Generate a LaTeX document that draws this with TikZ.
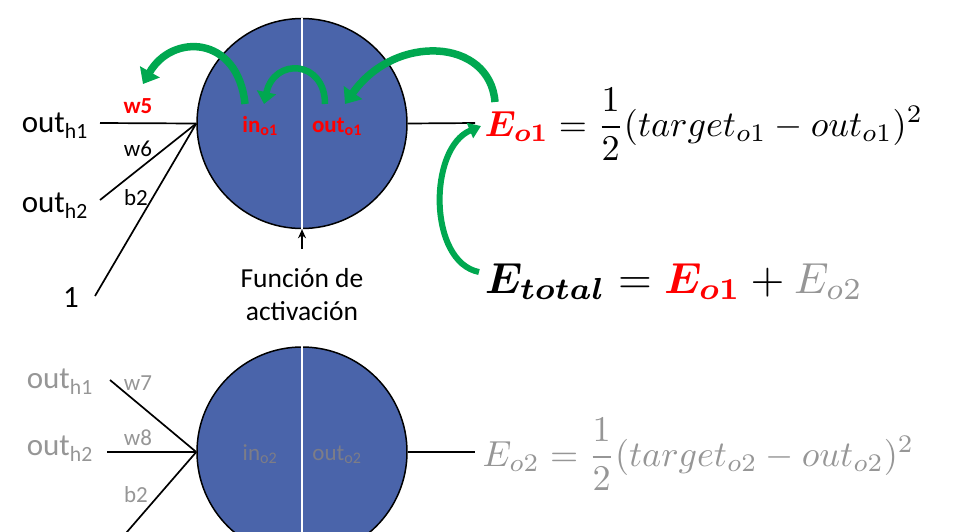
\documentclass[tikz,border=0pt]{standalone}
\usepackage{amsmath,bm}
\usepackage{fontspec}
\setmainfont{Carlito}
\usetikzlibrary{arrows.meta}
\definecolor{nblue}{RGB}{74,100,170}
\definecolor{ngreen}{RGB}{0,168,80}
\definecolor{ngray}{RGB}{150,150,150}
\definecolor{dgray}{RGB}{125,125,135}
\definecolor{nred}{RGB}{255,0,0}
\tikzset{
  neuron/.style={circle,draw=black,fill=nblue,minimum size=210pt,inner sep=0pt,line width=1.5pt},
  wire/.style={line width=1.7pt,black},
  lbl/.style={inner sep=0pt,font=\fontsize{31}{34}\selectfont},
  wlbl/.style={inner sep=0pt,font=\fontsize{23}{26}\selectfont},
  redb/.style={inner sep=0pt,text=nred,font=\fontsize{23}{26}\selectfont\bfseries},
  grayin/.style={inner sep=0pt,text=dgray,font=\fontsize{23}{26}\selectfont},
  garrow/.style={draw=ngreen,line width=7.5pt,-{Triangle[width=22pt,length=14pt]}},
  eq/.style={inner sep=0pt,font=\fontsize{10}{12}\selectfont,scale=3.62},
}
\begin{document}
\begin{tikzpicture}[x=1pt,y=-1pt]
\useasboundingbox (0,0) rectangle (958,531);
\clip (0,0) rectangle (958,531);

% ---------- top neuron ----------
\node[neuron] (c1) at (302,123.5) {};
\draw[white,line width=2pt] (c1.north) -- (c1.south);
\node[redb,anchor=base] (in1) at (260,132) {in\textsubscript{o1}};
\node[redb,anchor=base] (out1) at (337,132) {out\textsubscript{o1}};

\coordinate (a1) at (100,123);
\coordinate (a2) at (100,200);
\coordinate (a3) at (95,296);
\draw[wire] (a1) -- (c1.west);
\draw[wire] (a2) -- (c1.west);
\draw[wire] (a3) -- (c1.west);
\node[lbl,anchor=base east] (oh1) at (88,132) {out\textsubscript{h1}};
\node[lbl,anchor=base east] (oh2) at (88,212) {out\textsubscript{h2}};
\node[lbl,anchor=base] (one) at (71,307) {1};
\node[redb,anchor=base] (w5) at (138,113) {w5};
\node[wlbl,anchor=base] (w6) at (138,156) {w6};
\node[wlbl,anchor=base] (b2a) at (136,205) {b2};

\coordinate (o1) at (475,123);
\draw[wire] (c1.east) -- (o1);

\coordinate (act) at (302,249);
\draw[wire,-{Stealth[length=9pt,width=8pt]}] (act) -- (c1.south);
\node[inner sep=0pt,font=\fontsize{27.5}{32}\selectfont,anchor=base] (f1) at (302,287) {Función de};
\node[inner sep=0pt,font=\fontsize{27.5}{32}\selectfont,anchor=base] (f2) at (302,320) {activación};

% equations
\node[eq,anchor=base west] (eo1) at (484,136)
  {$\color{nred}\bm{E_{o1}}\color{black} = \dfrac{1}{2}(target_{o1} - out_{o1})^2$};
\node[eq,scale=1.2,anchor=base west] (etot) at (484,293)
  {$\bm{E_{total}} = \color{nred}\bm{E_{o1}}\color{black} + \color{ngray}E_{o2}$};

% green arrows
\coordinate (g1s) at (245,104);
\coordinate (g1e) at (143,84);
\draw[garrow] (g1s) .. controls (238,35) and (172,33) .. (g1e);
\coordinate (g2s) at (325,104);
\coordinate (g2e) at (264,104);
\draw[garrow,line width=6.5pt,-{Triangle[width=19pt,length=12pt]}] (g2s) .. controls (325,60) and (274,57) .. (g2e);
\coordinate (g3s) at (495,102);
\coordinate (g3e) at (345,104);
\draw[garrow] (g3s) .. controls (490,38) and (395,33) .. (g3e);
\coordinate (g4s) at (479,272);
\coordinate (g4e) at (481,126);
\draw[garrow,line width=6pt,-{Triangle[width=16pt,length=12pt]}] (g4s) .. controls (428,262) and (428,148) .. (g4e);

% ---------- bottom neuron ----------
\node[neuron] (c2) at (302,452) {};
\draw[white,line width=2pt] (c2.north) -- (c2.south);
\node[grayin,anchor=base] (in2) at (260,460) {in\textsubscript{o2}};
\node[grayin,anchor=base] (out2) at (337,460) {out\textsubscript{o2}};

\coordinate (b1) at (110,380);
\coordinate (b2) at (107,452);
\coordinate (b3) at (120,540);
\draw[wire] (b1) -- (c2.west);
\draw[wire] (b2) -- (c2.west);
\draw[wire] (b3) -- (c2.west);
\node[lbl,text=ngray,anchor=base east] (gh1) at (93,388) {out\textsubscript{h1}};
\node[lbl,text=ngray,anchor=base east] (gh2) at (93,455) {out\textsubscript{h2}};
\node[wlbl,text=ngray,anchor=base] (w7) at (138,390) {w7};
\node[wlbl,text=ngray,anchor=base] (w8) at (138,445) {w8};
\node[wlbl,text=ngray,anchor=base] (b2b) at (136,502) {b2};

\coordinate (o2) at (475,452);
\draw[wire] (c2.east) -- (o2);
\node[eq,text=ngray,anchor=base west] (eo2) at (482,466)
  {$E_{o2} = \dfrac{1}{2}(target_{o2} - out_{o2})^2$};
\end{tikzpicture}
\end{document}
